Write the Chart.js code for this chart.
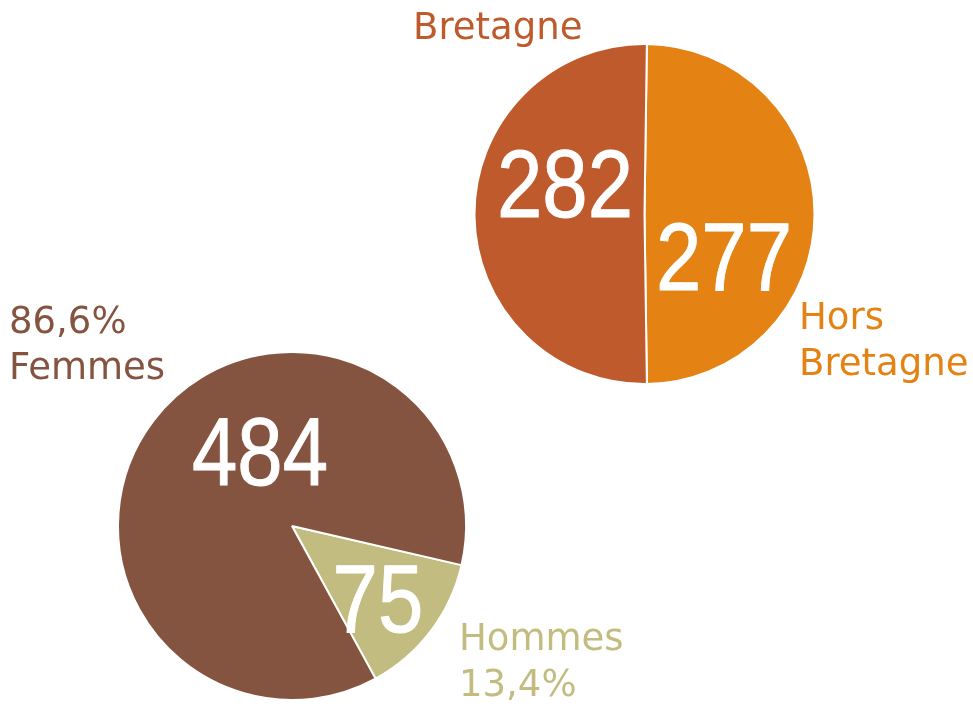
<!DOCTYPE html>
<html>
<head>
<meta charset="utf-8">
<script src="https://cdn.jsdelivr.net/npm/chart.js@4/dist/chart.umd.min.js"></script>
<style>
    html, body { margin: 0; padding: 0; background: #fff; }
    #wrap { position: relative; width: 973px; height: 713px; }
    #wrap canvas { position: absolute; left: 0; top: 0; }
</style>
</head>
<body>
<div id="wrap">
    <canvas id="origin-chart" width="973" height="713"></canvas>
    <canvas id="gender-chart" width="973" height="713"></canvas>
</div>
<script>
    // Origin pie (top right)
    const originLabels = ['Hors Bretagne', 'Bretagne'];
    const originValues = [277, 282];
    const originColors = ['#E48213', '#BE5A2C'];

    // Gender pie (bottom left)
    const genderLabels = ['Hommes', 'Femmes'];
    const genderValues = [75, 484];
    const genderColors = ['#C3BC80', '#855440'];

    const labelFont = '37px "DejaVu Sans", Verdana, sans-serif';

    function pct(values, i) {
        const total = values.reduce((a, b) => a + b, 0);
        return (values[i] / total * 100).toFixed(1).replace('.', ',') + '%';
    }

    // Draws the big white numbers and the outside labels
    const pieText = {
        id: 'pieText',
        afterDraw(chart, args, opts) {
            const ctx = chart.ctx;
            ctx.save();
            // numbers, condensed by scaling x, slightly thickened
            (opts.numbers || []).forEach(n => {
                ctx.save();
                ctx.font = '96px "Liberation Sans", Arial, sans-serif';
                ctx.fillStyle = '#fff';
                ctx.strokeStyle = '#fff';
                ctx.lineWidth = 1;
                ctx.lineJoin = 'round';
                ctx.textAlign = 'center';
                ctx.textBaseline = 'alphabetic';
                ctx.translate(n.x, n.y);
                ctx.scale(0.85, 1);
                ctx.fillText(String(n.text), 0, 0);
                ctx.strokeText(String(n.text), 0, 0);
                ctx.restore();
            });
            // outside labels
            ctx.font = labelFont;
            ctx.textAlign = 'left';
            ctx.textBaseline = 'alphabetic';
            (opts.labels || []).forEach(l => {
                ctx.fillStyle = l.color;
                l.lines.forEach((line, k) => ctx.fillText(line, l.x, l.y + k * 46));
            });
            ctx.restore();
        }
    };

    function pieOptions(padding, rotation, textOpts) {
        return {
            responsive: false,
            animation: false,
            rotation: rotation,
            layout: { padding: padding },
            plugins: {
                legend: { display: false },
                tooltip: { enabled: false },
                pieText: textOpts
            }
        };
    }

    new Chart(document.getElementById('origin-chart'), {
        type: 'pie',
        data: {
            labels: originLabels,
            datasets: [{
                data: originValues,
                backgroundColor: originColors,
                borderColor: '#fff',
                borderWidth: 2
            }]
        },
        options: pieOptions(
            { left: 473, right: 157, top: 43, bottom: 328 },
            0.8,
            {
                numbers: [
                    { text: originValues[1], x: 565, y: 217 },
                    { text: originValues[0], x: 724, y: 290 }
                ],
                labels: [
                    { lines: ['Bretagne'], x: 413, y: 39, color: originColors[1] },
                    { lines: ['Hors', 'Bretagne'], x: 799, y: 329, color: originColors[0] }
                ]
            }
        ),
        plugins: [pieText]
    });

    new Chart(document.getElementById('gender-chart'), {
        type: 'pie',
        data: {
            labels: genderLabels,
            datasets: [{
                data: genderValues,
                backgroundColor: genderColors,
                borderColor: '#fff',
                borderWidth: 2
            }]
        },
        options: pieOptions(
            { left: 117, right: 506, top: 351, bottom: 12 },
            103,
            {
                numbers: [
                    { text: genderValues[1], x: 260, y: 485 },
                    { text: genderValues[0], x: 378, y: 632 }
                ],
                labels: [
                    { lines: [pct(genderValues, 1), genderLabels[1]], x: 9, y: 333, color: genderColors[1] },
                    { lines: [genderLabels[0], pct(genderValues, 0)], x: 459, y: 650, color: genderColors[0] }
                ]
            }
        ),
        plugins: [pieText]
    });
</script>
</body>
</html>
